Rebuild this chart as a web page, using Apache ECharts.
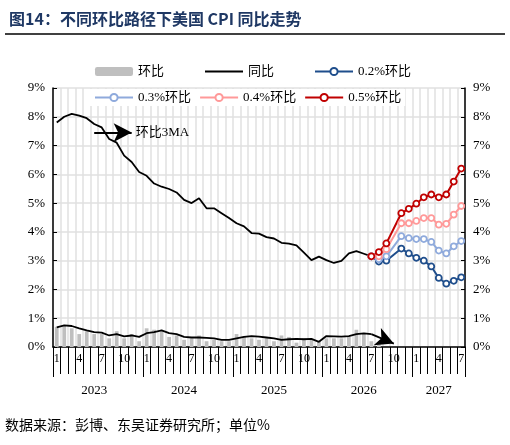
<!DOCTYPE html>
<html><head><meta charset="utf-8">
<script src="https://cdn.jsdelivr.net/npm/echarts@6/dist/echarts.min.js"></script>
<style>body{margin:0;background:#fff}#c{width:510px;height:445px}</style>
</head><body><div id="c"></div>
<script>
var years=['2023','2024','2025','2026','2027'];
var monthsPerYear=[12,12,12,12,7];
var yoy=[7.8,8.0,8.1,8.04,7.95,7.75,7.63,7.23,7.1,6.65,6.43,6.08,5.95,5.68,5.57,5.49,5.37,5.11,5.0,5.17,4.82,4.82,4.65,4.48,4.3,4.19,3.96,3.94,3.82,3.77,3.62,3.59,3.53,3.28,3.02,3.14,3.02,2.92,2.99,3.25,3.33,3.24,3.15];
var mom=[0.7,0.75,0.65,0.45,0.55,0.45,0.45,0.3,0.55,0.3,0.45,0.2,0.65,0.6,0.55,0.35,0.4,0.25,0.3,0.4,0.2,0.25,0.2,0.2,0.45,0.35,0.3,0.25,0.3,0.2,0.4,0.35,0.15,0.3,0.25,0.2,0.3,0.3,0.3,0.35,0.6,0.45,0.2,0.1];
var mom3ma=[0.68,0.75,0.73,0.65,0.58,0.52,0.5,0.4,0.45,0.37,0.4,0.35,0.48,0.52,0.58,0.48,0.45,0.35,0.33,0.33,0.32,0.3,0.25,0.25,0.3,0.35,0.38,0.36,0.33,0.3,0.25,0.27,0.28,0.27,0.28,0.18,0.38,0.37,0.36,0.38,0.45,0.47,0.45];
var p02=[3.15,2.97,3.0,null,3.42,3.25,3.1,3.0,2.8,2.4,2.2,2.3,2.42];
var p03=[3.15,3.05,3.15,null,3.85,3.78,3.75,3.75,3.65,3.35,3.25,3.5,3.68];
var p04=[3.15,3.15,3.4,null,4.3,4.3,4.38,4.48,4.48,4.25,4.28,4.6,4.9];
var p05=[3.15,3.3,3.6,null,4.65,4.8,4.98,5.2,5.3,5.2,5.3,5.75,6.2];
var yTicks=[0,1,2,3,4,5,6,7,8,9];

var cats=[],yearCats=[];
years.forEach(function(y,k){for(var m=1;m<=monthsPerYear[k];m++){cats.push(String(m));yearCats.push(y+'-'+m);}});
var N=cats.length, startP=N-p02.length;
function pad(a){var r=[];for(var i=0;i<startP;i++)r.push(null);return r.concat(a);}
var font='"Times New Roman","Liberation Serif","Noto Sans CJK SC",serif';
var chart=echarts.init(document.getElementById('c'));
function pser(name,data,color){return {name:name,type:'line',data:pad(data),connectNulls:true,symbol:'circle',symbolSize:6,
 itemStyle:{color:'#fff',borderColor:color,borderWidth:1.8},lineStyle:{color:color,width:2},z:5};}
chart.setOption({
 animation:false,
 title:{text:'图14：不同环比路径下美国 CPI 同比走势',left:4,top:6,textStyle:{fontFamily:'"Noto Sans CJK SC",serif',fontSize:16,fontWeight:'bold',color:'#1f3864'}},
 graphic:[{type:'line',shape:{x1:5,y1:34,x2:505,y2:34},style:{stroke:'#000',lineWidth:1.5}},
  {type:'text',left:5,top:418,style:{text:'数据来源：彭博、东吴证券研究所；单位%',font:'14px "Noto Sans CJK SC"',fill:'#000'}}],
 legend:[{data:['环比',{name:'同比',itemStyle:{opacity:0}},'0.2%环比'],left:90,top:60,itemGap:40,itemWidth:38,itemHeight:9,textStyle:{fontFamily:font,fontSize:13,color:'#000'}},
  {data:['0.3%环比','0.4%环比','0.5%环比'],left:90,top:89,itemGap:8,itemWidth:38,itemHeight:9,backgroundColor:'#fff',padding:[2,4],textStyle:{fontFamily:font,fontSize:13,color:'#000'},z:10}],
 grid:{left:53,right:45,top:88,bottom:98},
 xAxis:[{type:'category',data:cats,boundaryGap:true,
   axisLine:{lineStyle:{color:'#000',width:1.5}},
   axisTick:{show:true,interval:0,length:27,lineStyle:{color:'#000'}},
   axisLabel:{interval:0,margin:6,fontFamily:font,fontSize:12,color:'#000',formatter:function(v){return (v==='1'||v==='4'||v==='7'||v==='10')?v:'';}},
   splitLine:{show:true,interval:0,lineStyle:{color:'#e0e0e0',width:1.5}}},
  {type:'category',data:yearCats,position:'bottom',offset:27,boundaryGap:true,
   axisLine:{show:false},
   axisTick:{show:true,length:30,lineStyle:{color:'#000'},interval:function(i){return i%12===0;}},
   axisLabel:{interval:0,margin:10,fontFamily:font,fontSize:13,color:'#000',formatter:function(v){var p=v.split('-');var y=p[0],m=+p[1];return ((y!=='2027'&&m===6)||(y==='2027'&&m===4))?y:'';}}}],
 yAxis:[{type:'value',min:0,max:9,interval:1,axisLine:{show:true,lineStyle:{color:'#000',width:1.5}},axisTick:{show:true,inside:true,length:4,lineStyle:{color:'#000'}},
   axisLabel:{formatter:'{value}%',fontFamily:font,fontSize:13,color:'#000'},splitLine:{lineStyle:{color:'#e0e0e0',width:1.5}}},
  {type:'value',min:0,max:9,interval:1,position:'right',axisLine:{show:true,lineStyle:{color:'#000',width:1.5}},axisTick:{show:true,inside:true,length:4,lineStyle:{color:'#000'}},
   axisLabel:{formatter:'{value}%',fontFamily:font,fontSize:13,color:'#000'},splitLine:{show:false}}],
 series:[
  {name:'环比',type:'bar',data:mom,barWidth:'50%',itemStyle:{color:'#bfbfbf'}},
  {name:'同比',type:'line',data:yoy,symbol:'none',lineStyle:{color:'#000',width:1.8},itemStyle:{color:'#000'},z:4,
   markLine:{silent:true,symbol:['none','arrow'],symbolSize:[14,18],lineStyle:{color:'#000',width:1.8,type:'solid'},
    label:{show:true,position:'end',distance:4,formatter:'环比3MA',fontFamily:font,fontSize:13,color:'#000'},
    data:[[{coord:[5,7.45]},{coord:[10,7.45]}]]}},
  {name:'环比3MA',type:'line',data:mom3ma,symbol:'none',lineStyle:{color:'#000',width:1.8},z:4,
   markLine:{silent:true,symbol:['none','arrow'],symbolSize:[14,18],lineStyle:{color:'#000',width:1.8,type:'solid'},label:{show:false},
    data:[[{coord:[42,0.45]},{coord:[45,0.12]}]]}},
  pser('0.2%环比',p02,'#1f4e8c'),
  pser('0.3%环比',p03,'#8faadc'),
  pser('0.4%环比',p04,'#ff9999'),
  pser('0.5%环比',p05,'#c00000')
 ]
});
</script></body></html>
